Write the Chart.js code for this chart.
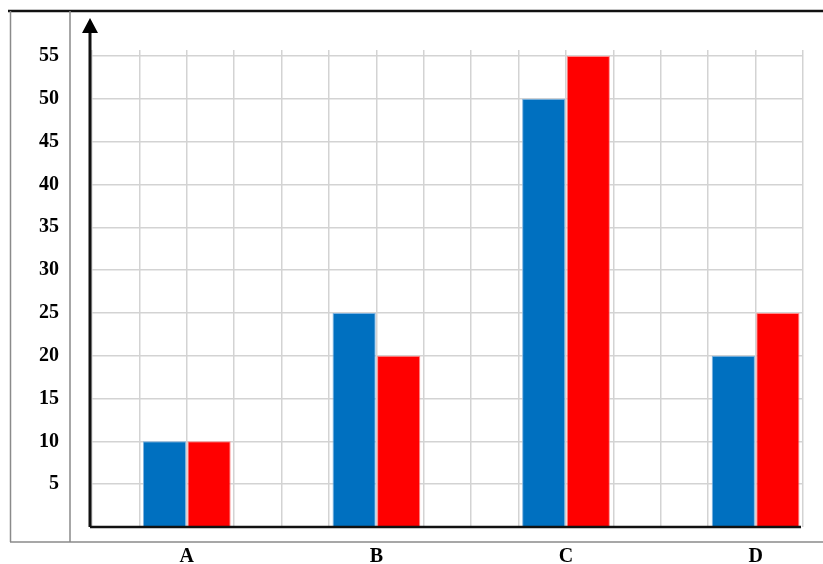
<!DOCTYPE html>
<html lang="en">
  <head>
    <meta charset="UTF-8" />
    <script src="https://cdn.jsdelivr.net/npm/chart.js"></script>
    <title>Bar chart A-D</title>
    <style>
      html, body { margin: 0; padding: 0; background: #fff; overflow: hidden; }
      canvas { display: block; }
    </style>
  </head>
  <body>
    <canvas id="myChart" width="823" height="564"></canvas>
  </body>
  <script>
    // dados do grafico
    const categorias = ["A", "B", "C", "D"];
    const serieAzul = [10, 25, 50, 20];
    const serieVermelha = [10, 20, 55, 25];
    const ticksY = [5, 10, 15, 20, 25, 30, 35, 40, 45, 50, 55];

    // cada categoria ocupa 4 colunas da grade, centrada na 2a linha
    const posX = categorias.map((c, i) => i * 4 + 2);
    const nomePorPos = {};
    posX.forEach((p, i) => (nomePorPos[p] = categorias[i]));

    // moldura, eixo com seta
    const moldura = {
      id: "moldura",
      beforeDraw(chart) {
        const c = chart.ctx;
        const w = chart.width;
        c.save();
        c.strokeStyle = "#111";
        c.lineWidth = 2.5;
        c.beginPath();
        c.moveTo(8, 11);
        c.lineTo(w, 11);
        c.stroke();
        c.strokeStyle = "#8a8a8a";
        c.lineWidth = 1.5;
        c.beginPath();
        c.moveTo(10.5, 11);
        c.lineTo(10.5, 542);
        c.moveTo(70, 11);
        c.lineTo(70, 542);
        c.moveTo(10, 542);
        c.lineTo(w, 542);
        c.stroke();
        c.restore();
      },
      afterDraw(chart) {
        const c = chart.ctx;
        const a = chart.chartArea;
        const x0 = a.left - 2;
        c.save();
        c.strokeStyle = "#111";
        c.lineWidth = 3;
        c.beginPath();
        c.moveTo(x0, a.bottom);
        c.lineTo(x0, 30);
        c.stroke();
        c.fillStyle = "#000";
        c.beginPath();
        c.moveTo(x0, 18);
        c.lineTo(x0 - 8, 33);
        c.lineTo(x0 + 8, 33);
        c.closePath();
        c.fill();
        c.strokeStyle = "#111";
        c.lineWidth = 2.5;
        c.beginPath();
        c.moveTo(x0, a.bottom);
        c.lineTo(a.right - 2, a.bottom);
        c.stroke();
        c.restore();
      },
    };

    const fonte = { family: "'Liberation Serif', 'Times New Roman', serif", size: 20, weight: "bold" };

    new Chart(document.getElementById("myChart"), {
      type: "bar",
      data: {
        datasets: [
          {
            label: "Azul",
            data: posX.map((x, i) => ({ x: x, y: serieAzul[i] })),
            backgroundColor: "#0070C0",
            borderColor: "#7fb2df",
            borderWidth: 1,
          },
          {
            label: "Vermelho",
            data: posX.map((x, i) => ({ x: x, y: serieVermelha[i] })),
            backgroundColor: "#FF0000",
            borderColor: "#ff8a8a",
            borderWidth: 1,
          },
        ],
      },
      options: {
        responsive: false,
        animation: false,
        // largura de referencia = 1 coluna da grade
        categoryPercentage: 1.88,
        barPercentage: 0.97,
        layout: { padding: { top: 50, right: 20, left: 0, bottom: 0 } },
        plugins: { legend: { display: false }, tooltip: { enabled: false } },
        scales: {
          x: {
            type: "linear",
            offset: false,
            min: 0,
            max: 15,
            afterFit: (axis) => {
              axis.height = 37;
              axis.paddingLeft = 0;
              axis.paddingRight = 0;
            },
            grid: { color: "#d3d3d3", lineWidth: 1.5, drawTicks: false, offset: false },
            border: { display: false },
            ticks: {
              stepSize: 1,
              autoSkip: false,
              maxRotation: 0,
              padding: 18,
              color: "#000",
              font: fonte,
              callback: (v) => nomePorPos[v] || "",
            },
          },
          y: {
            min: 0,
            max: 55.7,
            afterBuildTicks: (axis) => {
              axis.ticks = ticksY.map((v) => ({ value: v }));
            },
            afterFit: (axis) => {
              axis.width = 92;
              axis.paddingTop = 0;
              axis.paddingBottom = 0;
            },
            grid: { color: "#d3d3d3", lineWidth: 1.5, drawTicks: false },
            border: { display: false },
            ticks: { padding: 33, color: "#000", font: fonte },
          },
        },
      },
      plugins: [moldura],
    });
  </script>
</html>
